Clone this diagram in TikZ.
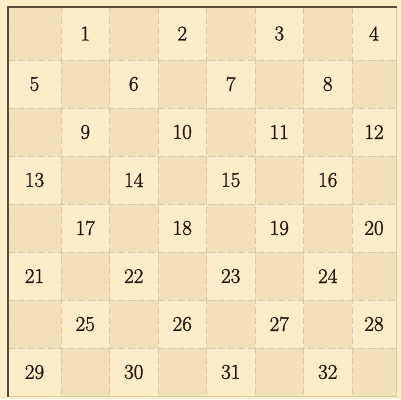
\documentclass[tikz,border=0pt]{standalone}
\usepackage{fontspec}
\usepackage{tikz}
\usetikzlibrary{patterns}

\newfontfamily\numfont[FakeBold=1.3]{Latin Modern Roman}

\definecolor{paper}{HTML}{FCEDC8}
\definecolor{shade}{HTML}{F5E3BB}
\definecolor{hatch}{HTML}{E2CC9E}
\definecolor{rule}{HTML}{D6C9AA}
\definecolor{frame}{HTML}{5A4A38}
\definecolor{ink}{HTML}{1E1610}

\begin{document}
\begin{tikzpicture}[
    x=1pt, y=-1pt,
    darksq/.style={fill=shade},
    hatchsq/.style={pattern=north east lines, pattern color=hatch, opacity=0.3},
    gridline/.style={rule, line width=0.45pt, dash pattern=on 7pt off 3pt},
    num/.style={text=ink, font=\numfont\fontsize{21}{23}\selectfont, inner sep=0pt}
]
    % paper
    \fill[paper] (0,0) rectangle (401,399);
    \useasboundingbox (0,0) rectangle (401,399);

    % squares and numbers
    \foreach \ya/\yb [count=\r] in {7/60, 60/108, 108/156, 156/204, 204/252, 252/300, 300/348, 348/396}
      \foreach \xa/\xb [count=\c] in {8/61, 61/109.5, 109.5/158, 158/206.5, 206.5/255, 255/303.5, 303.5/352, 352/396}{
        \pgfmathtruncatemacro\odd{mod(\r+\c,2)}
        \ifnum\odd=0
          \fill[darksq] (\xa,\ya) rectangle (\xb,\yb);
          \fill[hatchsq] (\xa,\ya) rectangle (\xb,\yb);
        \else
          \pgfmathtruncatemacro\num{4*(\r-1)+(\c+1)/2}
          \node[num] (n\num) at ({(\xa+\xb)/2},{(\ya+\yb)/2}) {\num};
        \fi
      }

    % grid
    \foreach \x in {61, 109.5, 158, 206.5, 255, 303.5, 352}
      \draw[gridline] (\x,7) -- (\x,396);
    \foreach \y in {60, 108, 156, 204, 252, 300, 348}
      \draw[gridline] (8,\y) -- (396,\y);

    % frame
    \draw[rule, line width=0.6pt] (396,7) -- (396,396) -- (8,396);
    \draw[frame, line width=1.3pt] (8,397) -- (8,7) -- (397,7);
\end{tikzpicture}
\end{document}
